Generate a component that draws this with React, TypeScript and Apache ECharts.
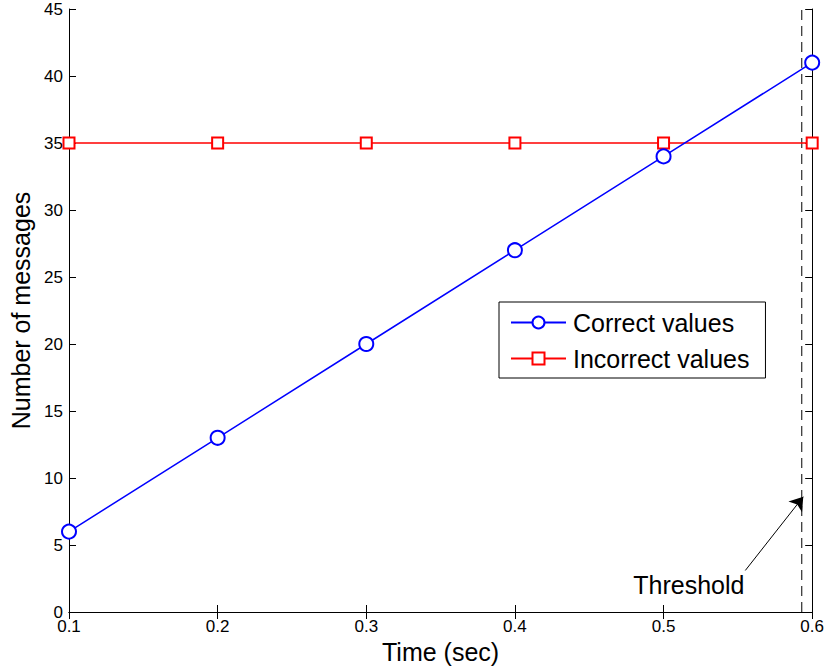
import { useEffect, useRef } from "react";
import * as echarts from "echarts";

// Sampling instants (s) and message counts per series
const timeSec = [0.1, 0.2, 0.3, 0.4, 0.5, 0.6];
const correctValues = [6, 13, 20, 27, 34, 41];
const incorrectValues = [35, 35, 35, 35, 35, 35];

// Axis ranges
const xRange = { min: 0.1, max: 0.6, step: 0.1 };
const yRange = { min: 0, max: 45, step: 5 };

// Threshold marker (time in s) and its annotation
const thresholdTime = 0.593;
const arrowFrom = [0.555, 3.1];
const arrowTo = [0.594, 8.6];
const thresholdLabelAt = [0.517, 2.0];
const thresholdLabel = "Threshold";

const FONT = "'Liberation Sans', Arial, Helvetica, sans-serif";
const BLUE = "#0000ff";
const RED = "#ff0000";

export default function App() {
  const ref = useRef<HTMLDivElement>(null);

  useEffect(() => {
    if (!ref.current) return;
    const chart = echarts.init(ref.current, undefined, { renderer: "svg" });

    const axisLine = { show: true, lineStyle: { color: "#000", width: 1 } };
    const axisTick = { show: true, inside: true, length: 7, lineStyle: { color: "#000", width: 1 } };

    const xBase = {
      type: "value" as const,
      min: xRange.min,
      max: xRange.max,
      interval: xRange.step,
      axisLine,
      axisTick,
      splitLine: { show: false },
    };
    const yBase = {
      type: "value" as const,
      min: yRange.min,
      max: yRange.max,
      interval: yRange.step,
      axisLine,
      axisTick,
      splitLine: { show: false },
    };

    chart.setOption({
      animation: false,
      backgroundColor: "#fff",
      textStyle: { fontFamily: FONT },
      grid: { left: 69, right: 14, top: 9, bottom: 59, containLabel: false },
      legend: {
        data: ["Correct values", "Incorrect values"],
        orient: "vertical",
        left: 499,
        top: 302,
        padding: [8, 16, 7, 11],
        itemGap: 11,
        itemWidth: 55,
        itemHeight: 15,
        backgroundColor: "#fff",
        borderColor: "#000",
        borderWidth: 1,
        borderRadius: 0,
        selectedMode: false,
        textStyle: { fontSize: 25, color: "#000", fontFamily: FONT, padding: [0, 0, 0, 2] },
      },
      xAxis: [
        {
          ...xBase,
          position: "bottom",
          axisLabel: {
            color: "#000",
            fontSize: 17,
            fontFamily: FONT,
            margin: 6,
            formatter: (v: number) => v.toFixed(1),
          },
          name: "Time (sec)",
          nameLocation: "middle",
          nameGap: 25,
          nameTextStyle: { color: "#000", fontSize: 25, fontFamily: FONT },
        },
        { ...xBase, position: "top", axisLabel: { show: false } },
      ],
      yAxis: [
        {
          ...yBase,
          position: "left",
          axisLabel: { color: "#000", fontSize: 17, fontFamily: FONT, margin: 6 },
          name: "Number of messages",
          nameLocation: "middle",
          nameGap: 34,
          nameTextStyle: { color: "#000", fontSize: 25, fontFamily: FONT },
        },
        { ...yBase, position: "right", axisLabel: { show: false } },
      ],
      series: [
        {
          name: "Incorrect values",
          type: "line",
          data: timeSec.map((t, i) => [t, incorrectValues[i]]),
          symbol: "emptyRect",
          symbolSize: 11,
          z: 3,
          lineStyle: { color: RED, width: 1.5 },
          itemStyle: { color: RED, borderColor: RED, borderWidth: 1.5 },
          emphasis: { disabled: true },
        },
        {
          name: "Correct values",
          type: "line",
          data: timeSec.map((t, i) => [t, correctValues[i]]),
          symbol: "emptyCircle",
          symbolSize: 14,
          z: 4,
          lineStyle: { color: BLUE, width: 1.5 },
          itemStyle: { color: BLUE, borderColor: BLUE, borderWidth: 1.5 },
          emphasis: { disabled: true },
        },
        {
          name: "threshold",
          type: "line",
          data: [
            [thresholdTime, yRange.min],
            [thresholdTime, yRange.max],
          ],
          symbol: "none",
          silent: true,
          z: 2,
          lineStyle: { color: "#000", width: 1, type: [10, 6] },
          markLine: {
            silent: true,
            symbol: ["none", "arrow"],
            symbolSize: 13,
            label: { show: false },
            lineStyle: { color: "#000", width: 1, type: "solid" },
            emphasis: { disabled: true },
            data: [[{ coord: arrowFrom }, { coord: arrowTo }]],
          },
        },
      ],
    });

    const [lx, ly] = chart.convertToPixel({ gridIndex: 0 }, thresholdLabelAt) as number[];
    chart.setOption({
      graphic: [
        {
          type: "text",
          x: lx,
          y: ly,
          silent: true,
          style: {
            text: thresholdLabel,
            fontSize: 25,
            fontFamily: FONT,
            fill: "#000",
            align: "center",
            verticalAlign: "middle",
          },
        },
      ],
    });

    return () => chart.dispose();
  }, []);

  return (
    <div
      ref={ref}
      style={{ position: "fixed", left: 0, top: 0, width: 827, height: 671 }}
    />
  );
}
